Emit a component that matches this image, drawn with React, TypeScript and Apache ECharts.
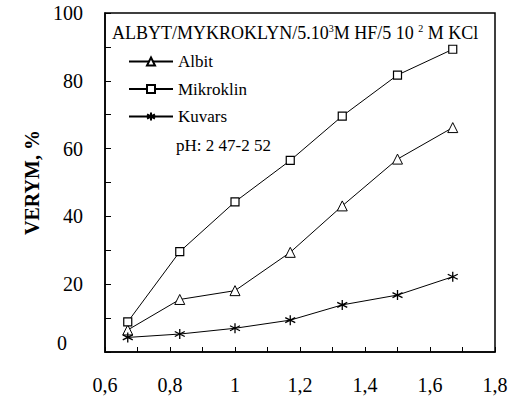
import React, { useEffect, useRef } from "react";
import * as echarts from "echarts";

const xValues = [0.67, 0.83, 1.0, 1.17, 1.33, 1.5, 1.67];
const albit = [6.5, 15.5, 18.1, 29.4, 43.1, 56.9, 66.2];
const mikroklin = [8.9, 29.6, 44.3, 56.5, 69.6, 81.7, 89.3];
const kuvars = [4.3, 5.3, 7.0, 9.4, 13.9, 16.8, 22.2];
const seriesNames = ["Albit", "Mikroklin", "Kuvars"];
const titleRich = "ALBYT/MYKROKLYN/5.10{s|3}M HF/5 10 {s|2} M KCl";
const phText = "pH: 2 47-2 52";
const yAxisName = "VERYM, %";

const FONT = "Liberation Serif, Times New Roman, serif";
const STAR = "path://M0,-5L0,5M-4.33,-2.5L4.33,2.5M-4.33,2.5L4.33,-2.5";

export default function App() {
  const ref = useRef<HTMLDivElement>(null);
  useEffect(() => {
    if (!ref.current) return;
    const chart = echarts.init(ref.current, null, { renderer: "svg" });
    const pair = (ys: number[]) => xValues.map((x, i) => [x, ys[i]]);
    const common = {
      type: "line",
      lineStyle: { color: "#000", width: 1 },
      symbolSize: 9,
    };
    const serif = (size: number) => ({ fontFamily: FONT, fontSize: size, color: "#000" });
    chart.setOption({
      animation: false,
      backgroundColor: "#fff",
      textStyle: { fontFamily: FONT },
      grid: {
        left: 105,
        right: 26,
        top: 13,
        bottom: 54,
        show: true,
        borderColor: "#000",
        borderWidth: 1.5,
        backgroundColor: "transparent",
      },
      legend: {
        orient: "vertical",
        left: 128,
        top: 53,
        padding: 0,
        itemWidth: 44,
        itemHeight: 10,
        itemGap: 10.5,
        data: seriesNames,
        formatter: (name: string) => `{t|${name}}`,
        textStyle: { ...serif(17), rich: { t: serif(17) } },
      },
      xAxis: {
        type: "value",
        min: 0.6,
        max: 1.8,
        interval: 0.1,
        axisLine: { show: true, lineStyle: { color: "#000", width: 1.5 } },
        axisTick: { show: true, inside: true, length: 5, lineStyle: { color: "#000", width: 1 } },
        splitLine: { show: false },
        axisLabel: {
          margin: 23,
          ...serif(20),
          showMinLabel: true,
          showMaxLabel: true,
          formatter: (v: number) => {
            const k = Math.round(v * 10);
            if (k % 2 !== 0) return "";
            const s = (k / 10).toString();
            return `{t|${s.replace(".", ",")}}`;
          },
          rich: { t: serif(20) },
        },
      },
      yAxis: {
        type: "value",
        min: 0,
        max: 100,
        interval: 10,
        name: yAxisName,
        nameLocation: "middle",
        nameGap: 60,
        nameTextStyle: { fontFamily: FONT, fontSize: 20, fontWeight: "bold", color: "#000" },
        axisLine: { show: true, lineStyle: { color: "#000", width: 1.5 } },
        axisTick: { show: true, inside: true, length: 6, lineStyle: { color: "#000", width: 1 } },
        splitLine: { show: false },
        axisLabel: {
          margin: 22,
          ...serif(20),
          formatter: (v: number) => {
            const k = Math.round(v);
            if (k % 20 !== 0) return "";
            if (k === 0) return "{z|0}";
            return `{t|${k}}`;
          },
          rich: {
            t: serif(20),
            z: { ...serif(20), padding: [0, 16, 18, 0] },
          },
        },
      },
      graphic: [
        {
          type: "text",
          left: 112,
          top: 23,
          style: {
            text: titleRich,
            font: `18px ${FONT}`,
            fill: "#000",
            rich: {
              s: { fontSize: 10, fontFamily: FONT, fill: "#000", verticalAlign: "top", lineHeight: 20 },
            },
          },
        },
        {
          type: "text",
          left: 176,
          top: 137,
          style: { text: phText, font: `17px ${FONT}`, fill: "#000" },
        },
      ],
      series: [
        {
          ...common,
          name: seriesNames[0],
          symbol: "triangle",
          symbolSize: 10,
          itemStyle: { color: "#fff", borderColor: "#000", borderWidth: 1 },
          data: pair(albit),
        },
        {
          ...common,
          name: seriesNames[1],
          symbol: "rect",
          symbolSize: 8,
          itemStyle: { color: "#fff", borderColor: "#000", borderWidth: 1.2 },
          data: pair(mikroklin),
        },
        {
          ...common,
          name: seriesNames[2],
          symbol: STAR,
          symbolSize: 10,
          itemStyle: { color: "#000", borderColor: "#000", borderWidth: 1.3 },
          data: pair(kuvars),
        },
      ],
    });
    return () => chart.dispose();
  }, []);
  return (
    <div
      ref={ref}
      style={{ position: "fixed", left: 0, top: 0, width: 521, height: 406, background: "#fff" }}
    />
  );
}
